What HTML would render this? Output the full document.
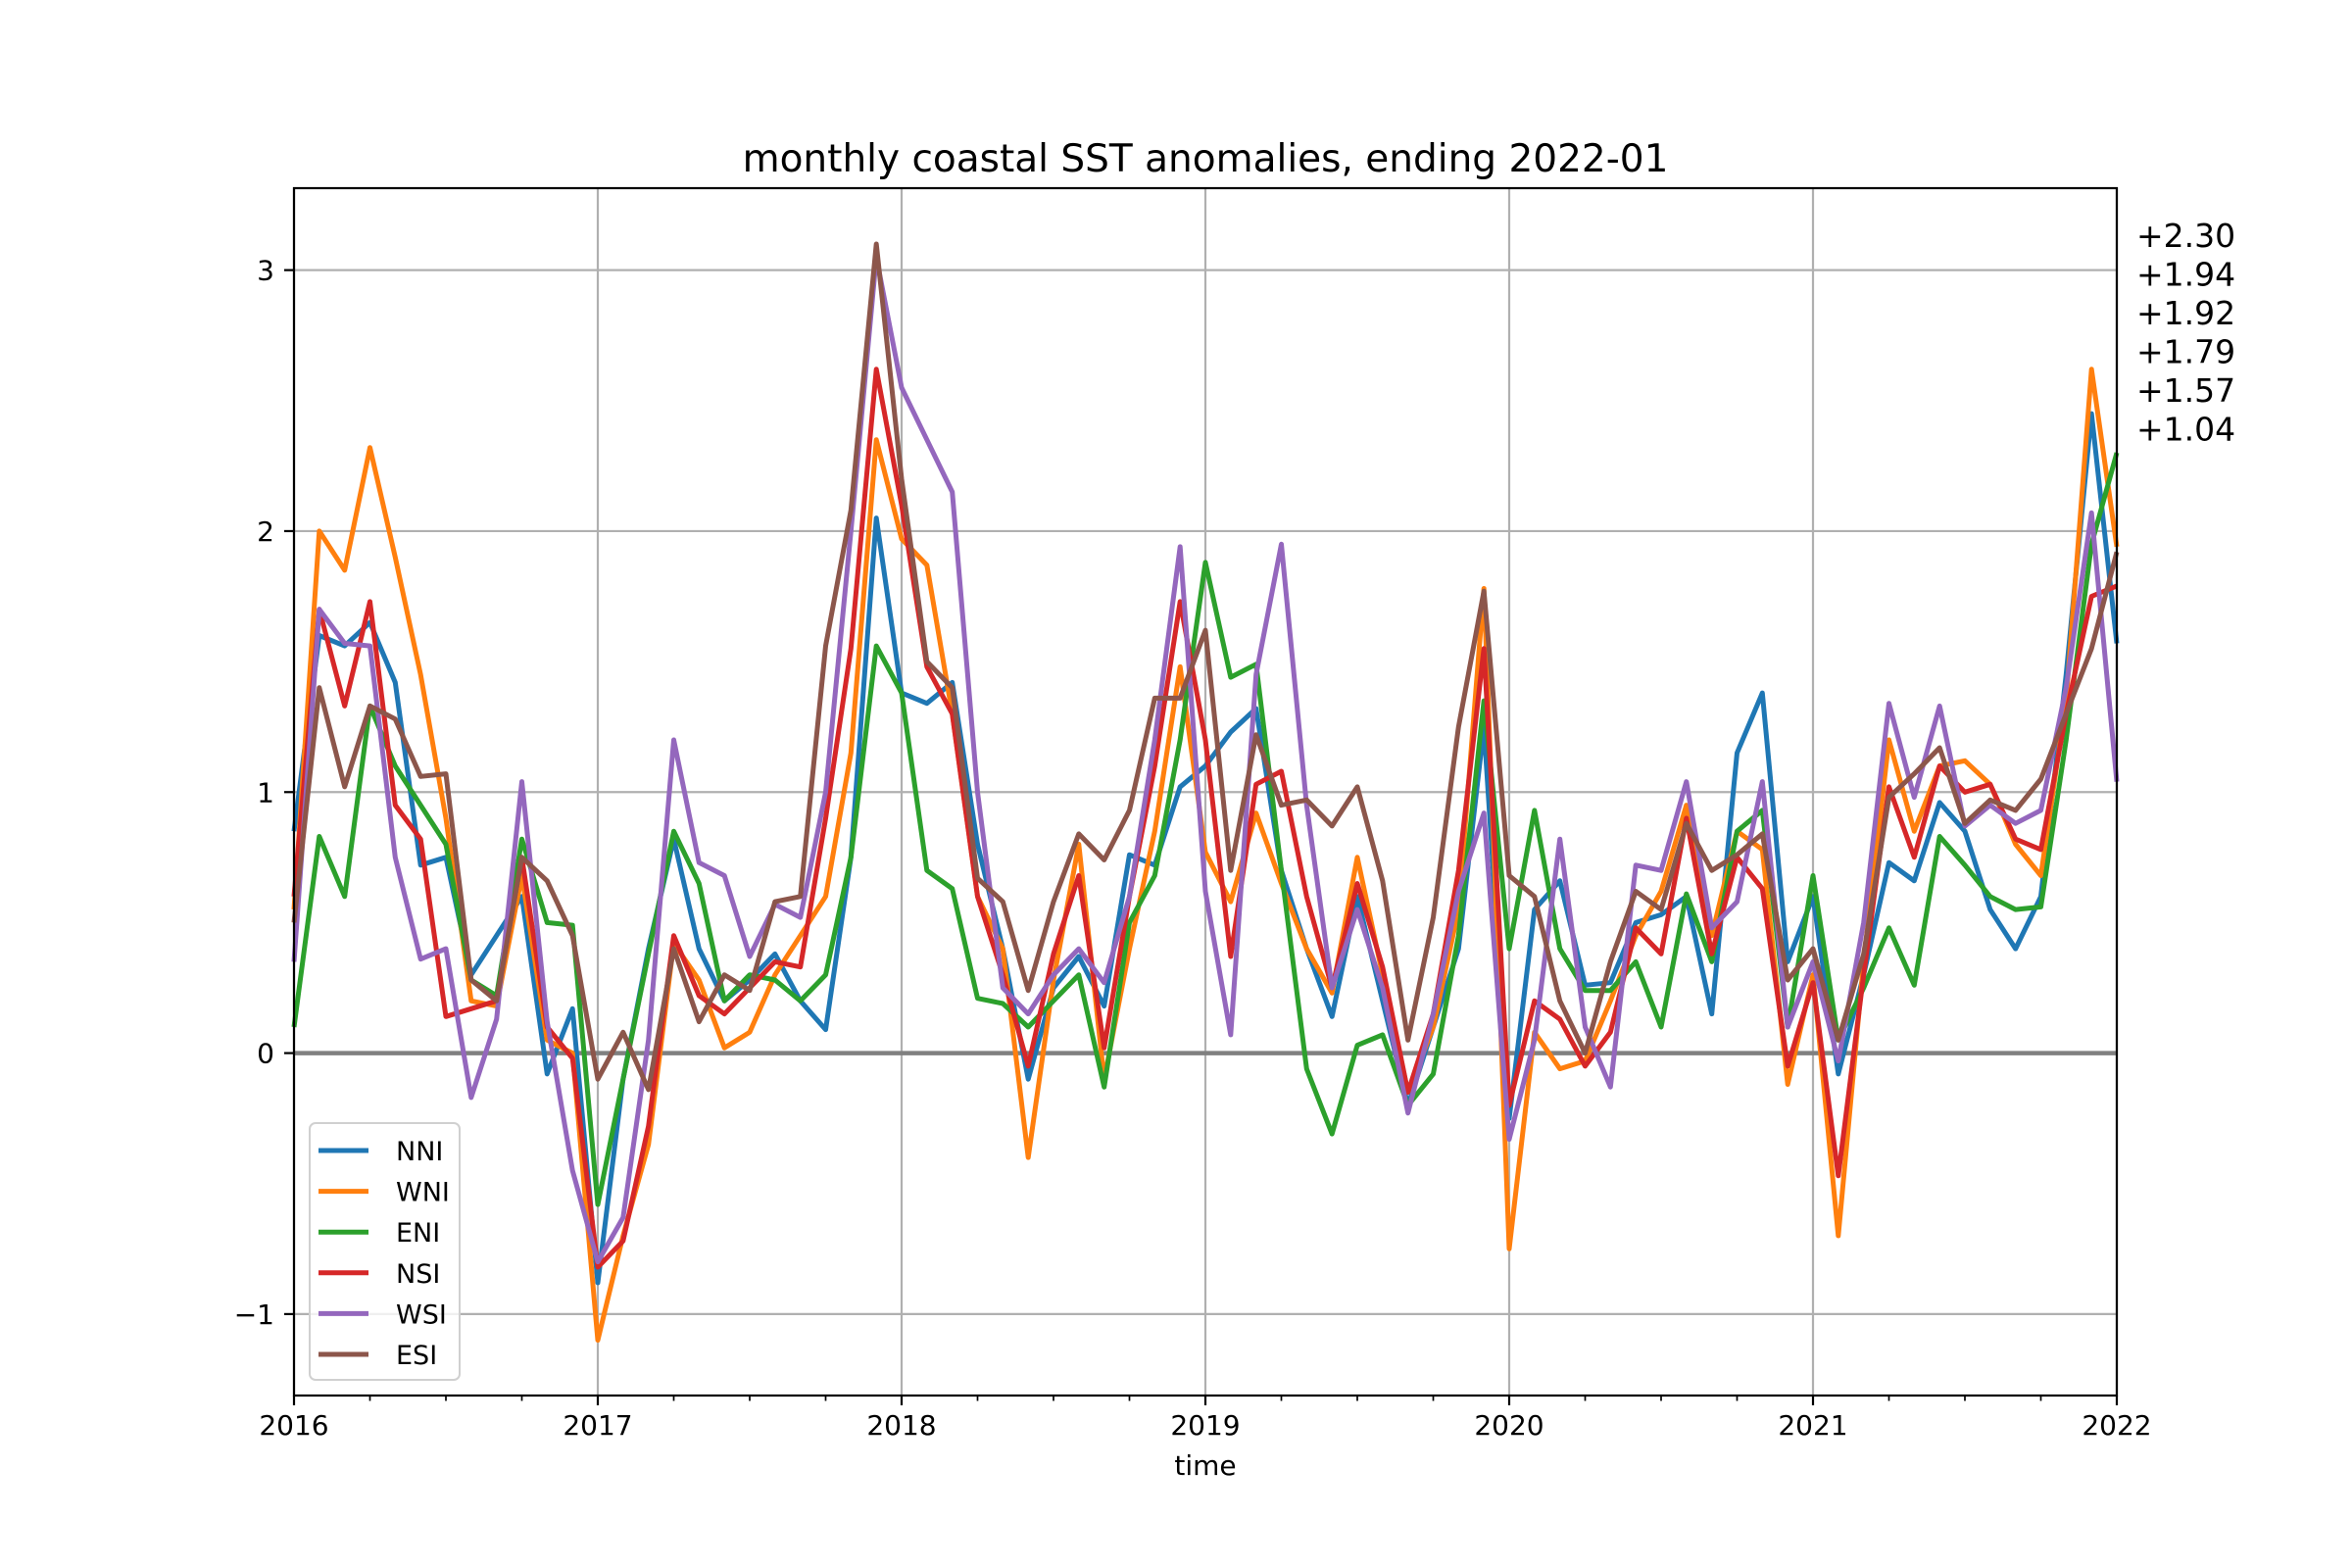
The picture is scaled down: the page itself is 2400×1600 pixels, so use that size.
<!DOCTYPE html>
<html><head><meta charset="utf-8"><style>
html,body{margin:0;padding:0;background:#fff;}
svg{display:block;font-family:"DejaVu Sans","Liberation Sans",sans-serif;}
</style></head><body>
<svg id="chart" width="2400" height="1600" viewBox="0 0 2400 1600" xmlns="http://www.w3.org/2000/svg">
<rect width="2400" height="1600" fill="#fff"/>
<g id="grid"></g>
<g id="zero"></g>
<g id="series"></g>
<g id="axes"></g>
<text x="1230" y="175" font-size="39" text-anchor="middle">monthly coastal SST anomalies, ending 2022-01</text>
<text x="1230" y="1505" font-size="28" text-anchor="middle">time</text>
<g id="ann"></g>
<g id="legend"></g>
</svg>
<script>
const seriesNames = ["NNI","WNI","ENI","NSI","WSI","ESI"];
const seriesColors = ["#1f77b4","#ff7f0e","#2ca02c","#d62728","#9467bd","#8c564b"];
const yearLabels = ["2016","2017","2018","2019","2020","2021","2022"];
const yTicks = [-1,0,1,2,3];
const endLabels = ["+2.30","+1.94","+1.92","+1.79","+1.57","+1.04"];
const NNI = [0.85,1.6,1.56,1.65,1.42,0.72,0.75,0.3,0.45,0.6,-0.08,0.17,-0.88,-0.1,0.4,0.82,0.4,0.2,0.28,0.38,0.2,0.09,0.75,2.05,
1.38,1.34,1.42,0.8,0.4,-0.1,0.25,0.37,0.18,0.76,0.72,1.02,1.1,1.23,1.32,0.7,0.4,0.14,0.6,0.2,-0.2,0.1,0.4,1.25,
-0.25,0.55,0.66,0.26,0.27,0.5,0.53,0.6,0.15,1.15,1.38,0.35,0.6,-0.08,0.3,0.73,0.66,0.96,0.85,0.55,0.4,0.6,1.45,2.45,1.57];
const WNI = [0.55,2.0,1.85,2.32,1.9,1.45,0.9,0.2,0.18,0.68,0.05,0.0,-1.1,-0.7,-0.35,0.42,0.28,0.02,0.08,0.3,0.45,0.6,1.15,2.35,
1.97,1.87,1.3,0.6,0.4,-0.4,0.28,0.8,-0.1,0.4,0.85,1.48,0.77,0.58,0.92,0.65,0.4,0.23,0.75,0.3,-0.15,0.1,0.55,1.78,
-0.75,0.08,-0.06,-0.03,0.2,0.45,0.62,0.95,0.45,0.85,0.78,-0.12,0.3,-0.7,0.35,1.2,0.85,1.1,1.12,1.03,0.8,0.68,1.35,2.62,1.94];
const ENI = [0.1,0.83,0.6,1.33,1.1,0.95,0.8,0.28,0.22,0.82,0.5,0.49,-0.58,-0.1,0.38,0.85,0.65,0.2,0.3,0.28,0.2,0.3,0.75,1.56,
1.38,0.7,0.63,0.21,0.19,0.1,0.2,0.3,-0.13,0.5,0.68,1.2,1.88,1.44,1.49,0.7,-0.06,-0.31,0.03,0.07,-0.2,-0.08,0.45,1.35,
0.4,0.93,0.4,0.24,0.24,0.35,0.1,0.61,0.35,0.85,0.93,0.1,0.68,0.05,0.25,0.48,0.26,0.83,0.72,0.6,0.55,0.56,1.2,1.95,2.30];
const NSI = [0.6,1.7,1.33,1.73,0.95,0.82,0.14,0.17,0.2,0.75,0.1,-0.02,-0.82,-0.72,-0.28,0.45,0.22,0.15,0.25,0.35,0.33,0.9,1.55,2.62,
2.1,1.48,1.3,0.6,0.3,-0.05,0.38,0.68,0.02,0.6,1.1,1.73,1.2,0.37,1.03,1.08,0.6,0.25,0.65,0.33,-0.15,0.15,0.7,1.55,
-0.2,0.2,0.13,-0.05,0.08,0.48,0.38,0.9,0.38,0.75,0.63,-0.05,0.27,-0.47,0.3,1.02,0.75,1.1,1.0,1.03,0.82,0.78,1.3,1.75,1.79];
const WSI = [0.35,1.7,1.57,1.56,0.75,0.36,0.4,-0.17,0.13,1.04,0.12,-0.45,-0.8,-0.63,0.05,1.2,0.73,0.68,0.37,0.57,0.52,1.0,2.0,3.05,
2.55,2.35,2.15,1.0,0.25,0.15,0.3,0.4,0.27,0.6,1.2,1.94,0.62,0.07,1.45,1.95,0.95,0.25,0.55,0.25,-0.23,0.15,0.62,0.92,
-0.33,0.05,0.82,0.1,-0.13,0.72,0.7,1.04,0.48,0.58,1.04,0.1,0.35,-0.03,0.5,1.34,0.98,1.33,0.87,0.95,0.88,0.93,1.4,2.07,1.04];
const ESI = [0.5,1.4,1.02,1.33,1.28,1.06,1.07,0.28,0.2,0.75,0.66,0.45,-0.1,0.08,-0.14,0.4,0.12,0.3,0.24,0.58,0.6,1.56,2.08,3.1,
2.2,1.5,1.4,0.67,0.58,0.24,0.58,0.84,0.74,0.93,1.36,1.36,1.62,0.7,1.22,0.95,0.97,0.87,1.02,0.66,0.05,0.52,1.25,1.77,
0.68,0.6,0.2,0.0,0.35,0.62,0.55,0.88,0.7,0.76,0.84,0.28,0.4,0.05,0.38,0.98,1.07,1.17,0.88,0.97,0.93,1.05,1.3,1.55,1.92];
const seriesValues = [NNI,WNI,ENI,NSI,WSI,ESI];

const L=300,R=2160,T=192,B=1424,YMIN=-1.312,YMAX=3.314,NM=72;
const NS="http://www.w3.org/2000/svg";
function xs(m){return L+(R-L)*m/NM;}
function ys(v){return B-(v-YMIN)/(YMAX-YMIN)*(B-T);}
function mk(tag,attrs,parent){const e=document.createElementNS(NS,tag);for(const k in attrs)e.setAttribute(k,attrs[k]);parent.appendChild(e);return e;}
const grid=document.getElementById('grid'),axes=document.getElementById('axes'),ser=document.getElementById('series');
yearLabels.forEach((lab,i)=>{
  const x=xs(i*12);
  const g=mk('line',{x1:x,x2:x,y1:T,y2:B,stroke:'#b0b0b0','stroke-width':2.2},grid);
  
  
  const t=mk('line',{x1:x,x2:x,y1:B,y2:B+10,stroke:'#000','stroke-width':2.2},axes);
  
  
  const tx=mk('text',{x:x,y:B+40,'font-size':28,'text-anchor':'middle'},axes);
  tx.textContent=lab;
  
  
});
for(let m=3;m<NM;m+=3){ if(m%12===0)continue;
  const x=xs(m);
  const t=mk('line',{x1:x,x2:x,y1:B,y2:B+5.5,stroke:'#000','stroke-width':1.7},axes);
  
  
}
yTicks.forEach(v=>{
  const y=ys(v);
  const g=mk('line',{x1:L,x2:R,y1:y,y2:y,stroke:'#b0b0b0','stroke-width':2.2},grid);
  
  
  const t=mk('line',{x1:L-10,x2:L,y1:y,y2:y,stroke:'#000','stroke-width':2.2},axes);
  
  
  const tx=mk('text',{x:L-20,y:y+10,'font-size':28,'text-anchor':'end'},axes);
  tx.textContent=v<0?('\u2212'+Math.abs(v)):String(v);
  
  
});
const z=mk('line',{x1:L,x2:R,y1:ys(0),y2:ys(0),stroke:'#808080','stroke-width':4.5},document.getElementById('zero'));


seriesValues.forEach((vals,i)=>{
  const pts=vals.map((v,m)=>xs(m).toFixed(1)+','+ys(v).toFixed(1)).join(' ');
  const p=mk('polyline',{points:pts,fill:'none',stroke:seriesColors[i],'stroke-width':5,'stroke-linejoin':'round'},ser);
  
  
});
const fr=mk('rect',{x:L,y:T,width:R-L,height:B-T,fill:'none',stroke:'#000','stroke-width':2.2},axes);


const ann=document.getElementById('ann');
endLabels.forEach((s,i)=>{
  const t=mk('text',{x:2180,y:252+i*39.5,'font-size':33},ann);
  t.textContent=s;
  
  
});
const lg=document.getElementById('legend');
const lb=mk('rect',{x:316,y:1146,width:153,height:262,rx:6,fill:'#fff','fill-opacity':0.8,stroke:'#d0d0d0','stroke-width':2},lg);


seriesNames.forEach((n,i)=>{
  const y=1174+i*41.6;
  const l=mk('line',{x1:325,x2:376,y1:y,y2:y,stroke:seriesColors[i],'stroke-width':5},lg);
  
  
  const t=mk('text',{x:404,y:y+10,'font-size':27},lg);
  t.textContent=n;
  
  
});
</script>
</body></html>
